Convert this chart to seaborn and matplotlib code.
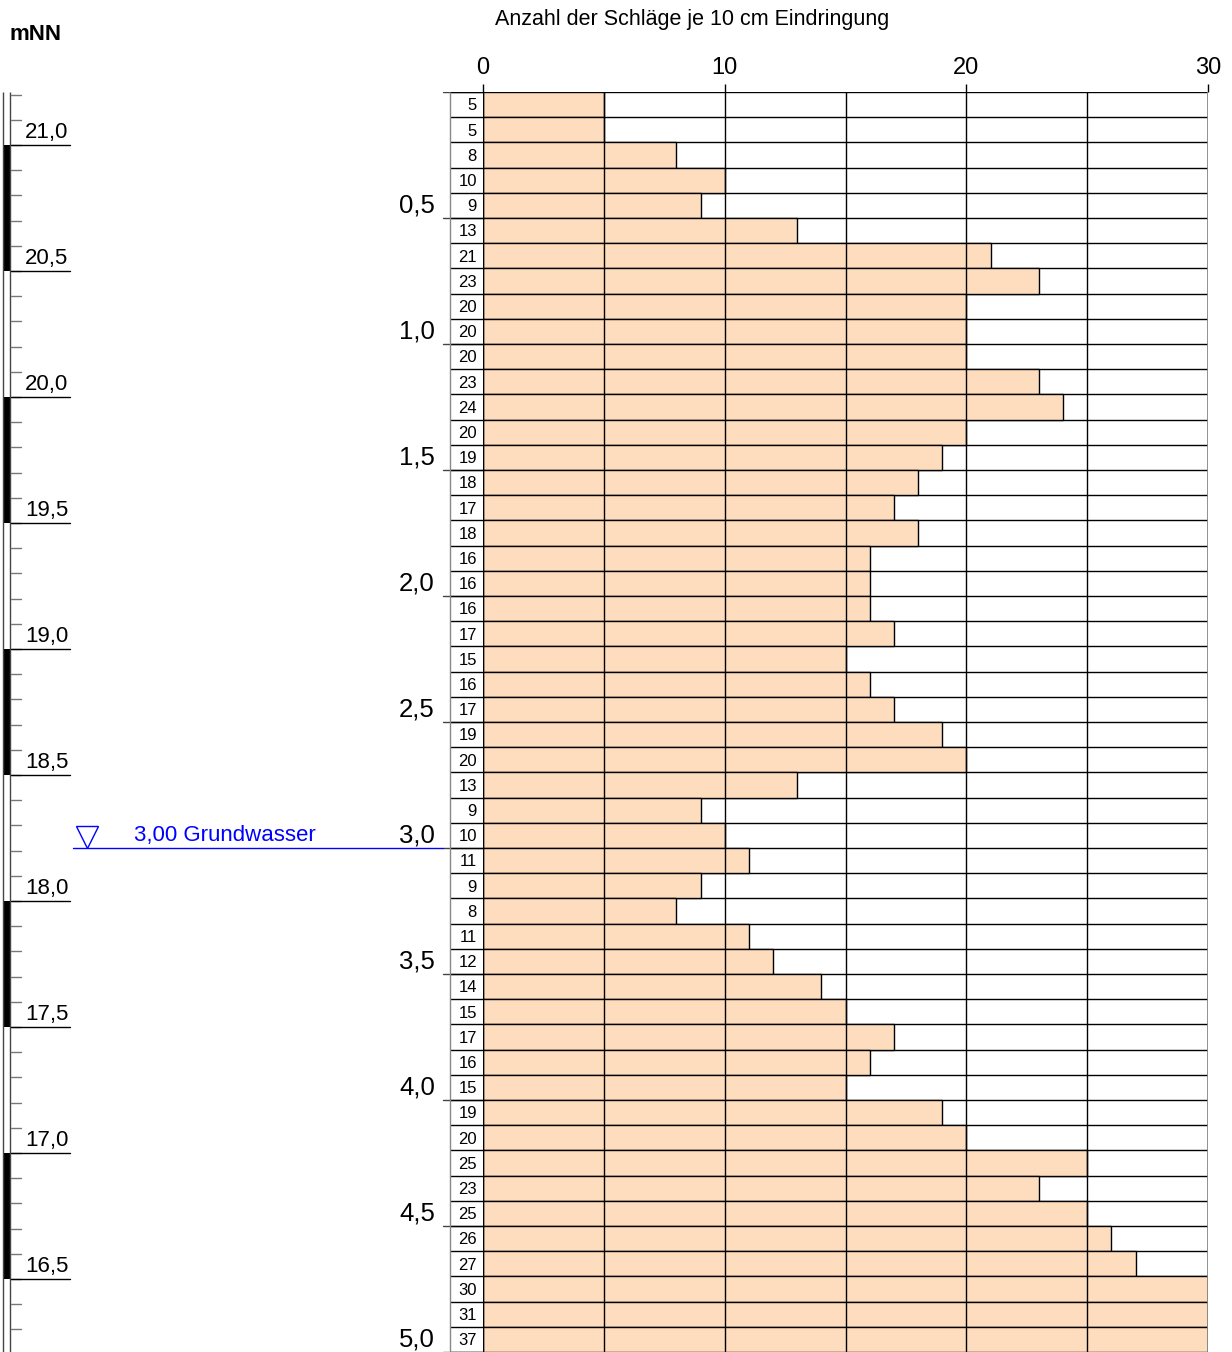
## Rammsondierung - Schlagzahlen je 10 cm mit Hoehenskala (mNN)
import numpy as np
import pandas as pd
import seaborn as sns
from matplotlib import pyplot as plt

sns.set_style('white')
plt.rcParams['font.family'] = ['Liberation Sans', 'DejaVu Sans']
plt.rcParams['text.color'] = 'black'
plt.rcParams['xtick.color'] = 'black'
plt.rcParams['xtick.labelcolor'] = 'black'

## Daten
blows = [5, 5, 8, 10, 9, 13, 21, 23, 20, 20,
         20, 23, 24, 20, 19, 18, 17, 18, 16, 16,
         16, 17, 15, 16, 17, 19, 20, 13, 9, 10,
         11, 9, 8, 11, 12, 14, 15, 17, 16, 15,
         19, 20, 25, 23, 25, 26, 27, 30, 31, 37]
step = 0.1            # m je Schlagintervall
ground = 21.21        # Ansatzhoehe mNN
groundwater = 3.00    # m unter Gelaende
x_max = 30
x_ticks = [0, 10, 20, 30]
depth_marks = [0.5, 1.0, 1.5, 2.0, 2.5, 3.0, 3.5, 4.0, 4.5, 5.0]
elev_marks = [21.0, 20.5, 20.0, 19.5, 19.0, 18.5, 18.0, 17.5, 17.0, 16.5]

n = len(blows)
depth_top = np.round(np.arange(n) * step, 2)
df = pd.DataFrame({'depth': depth_top + step / 2,
                   'blows': blows})
df['shown'] = df['blows'].clip(upper=x_max)
max_depth = n * step

W, H = 1232, 1352
fig = plt.figure(figsize=(W / 100, H / 100), dpi=100)
top_frac = (H - 92) / H
ax = fig.add_axes([483 / W, 0, 725 / W, top_frac])
ax_l = fig.add_axes([0, 0, 483 / W, top_frac])

peach = '#FEDDBE'

## Balken
sns.barplot(data=df, x='shown', y='depth', orient='h', native_scale=True,
            width=1.0, color=peach, saturation=1, edgecolor='black',
            linewidth=1.0, ax=ax, zorder=2)

ax.set_xlim(0, x_max)
ax.set_ylim(max_depth, 0)
# Raster
ax.vlines(np.arange(0, x_max + 1, 5), 0, max_depth, color='black', lw=1, zorder=3)
ax.vlines(x_max, 0, max_depth, color='#888888', lw=1.2, zorder=3)
ax.hlines(np.round(np.arange(0, max_depth + 0.001, step), 2), 0, x_max,
          color='black', lw=1, zorder=1)
for s in ax.spines.values():
    s.set_visible(False)
ax.xaxis.tick_top()
ax.set_xticks(x_ticks)
ax.set_xticklabels([str(t) for t in x_ticks], fontsize=17)
ax.tick_params(axis='x', length=6, width=1, pad=3, color='black', direction='out', top=True)
ax.set_yticks([])
ax.set_xlabel('')
ax.set_ylabel('')

## linke Spalte: Hoehenskala, Tiefen, Schlagzahlen
ax_l.set_xlim(0, 483)
ax_l.set_ylim(max_depth, 0)
ax_l.axis('off')

# Doppellinie und schwarze Felder
ax_l.vlines([3, 10], 0, max_depth, color='#444444', lw=1)
for e in elev_marks[::2]:
    ax_l.fill_betweenx([ground - e, ground - (e - 0.5)], 3, 10.5, color='black', lw=0)
# 10 cm Striche
for e in np.round(np.arange(21.2, 16.2, -0.1), 2):
    d = ground - e
    if d < 0 or d > max_depth:
        continue
    ax_l.plot([10.5, 21], [d, d], color='#777777', lw=1)
for e in elev_marks:
    d = ground - e
    ax_l.plot([10.5, 70], [d, d], color='black', lw=1)
    ax_l.text(25, d - 0.006, f'{e:.1f}'.replace('.', ','), fontsize=16,
              ha='left', va='bottom')

# Tiefenmarken
ax_l.plot([443, 483], [0, 0], color='#444444', lw=1)
for d in depth_marks:
    ax_l.plot([443, 483], [d, d], color='#444444', lw=1)
    ax_l.text(435, d - 0.003, f'{d:.1f}'.replace('.', ','), fontsize=18.5,
              ha='right', va='bottom')
ax_l.hlines(np.round(np.arange(0, max_depth + 0.001, step), 2), 450, 483,
            color='black', lw=1)
ax_l.vlines(450, 0, max_depth, color='#888888', lw=1)
for d, b in zip(df['depth'], df['blows']):
    ax_l.text(477, d + 0.005, str(b), fontsize=12, ha='right', va='center')

# Grundwasser
blue = '#0000FF'
ax_l.plot([73, 443], [groundwater, groundwater], color=blue, lw=1)
ax_l.plot([87], [groundwater - 0.045], marker='v', markersize=16, mfc='none',
          mec=blue, mew=1)
ax_l.text(134, groundwater - 0.008, f'{groundwater:.2f}'.replace('.', ',') + ' Grundwasser',
          color=blue, fontsize=16, ha='left', va='bottom')

## Beschriftung
fig.text(692 / W, 1 - 19 / H, 'Anzahl der Schläge je 10 cm Eindringung',
         ha='center', va='center', fontsize=15.5)
fig.text(10 / W, 1 - 35 / H, 'mNN', ha='left', va='center', fontsize=16,
         fontweight='bold')

fig.savefig('out.png', dpi=100)
